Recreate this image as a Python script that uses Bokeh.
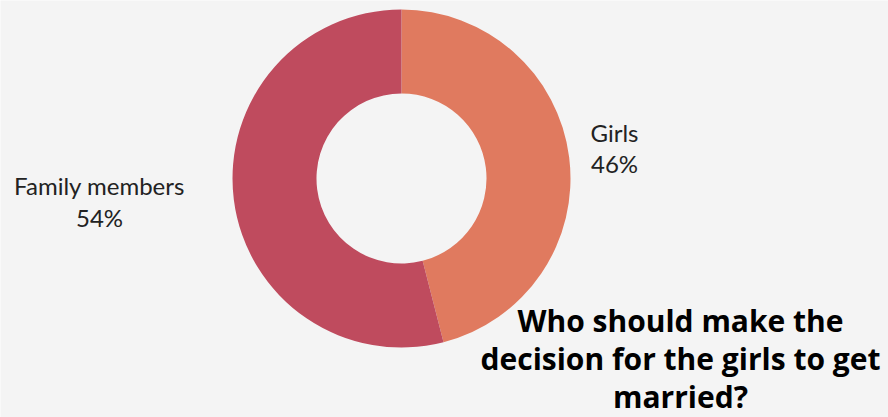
import math
from bokeh.plotting import figure
from bokeh.models import ColumnDataSource, Range1d
from bokeh.core.properties import value
from bokeh.embed import file_html
from bokeh.resources import INLINE

# Data
categories = ["Girls", "Family members"]
shares = [46, 54]
colors = ["#E07A5F", "#BF4B5E"]
title_lines = ["Who should make the", "decision for the girls to get", "married?"]

W, H = 888, 417
p = figure(width=W, height=H, output_backend="svg", toolbar_location=None,
           x_range=Range1d(0, W), y_range=Range1d(0, H),
           background_fill_color="#F4F4F4", border_fill_color="#F4F4F4",
           min_border=0)
p.axis.visible = False
p.grid.visible = False
p.outline_line_color = None

# donut geometry (layout)
cx, cy = 401, H - 178
r_in, r_out = 85, 169

total = sum(shares)
starts, ends = [], []
a = math.pi / 2
for s in shares:
    span = 2 * math.pi * s / total
    starts.append(a - span)
    ends.append(a)
    a -= span

src = ColumnDataSource(dict(cat=categories, share=shares, color=colors,
                            start=starts, end=ends,
                            x=[cx] * len(shares), y=[cy] * len(shares)))
p.annular_wedge(x="x", y="y", inner_radius=r_in, outer_radius=r_out,
                start_angle="start", end_angle="end", fill_color="color",
                line_color=None, source=src)

# labels
label_font = value("Lato")
lab_x = [614, 99]
lab_y1 = [H - 132, H - 185]
lab_y2 = [H - 163, H - 217]
pct = [f"{s}%" for s in shares]
p.text(x=lab_x, y=lab_y1, text=categories, text_font=label_font,
       text_font_size="24px", text_align="center", text_baseline="alphabetic",
       text_color="#222222")
p.text(x=lab_x, y=lab_y2, text=pct, text_font=label_font,
       text_font_size="24px", text_align="center", text_baseline="alphabetic",
       text_color="#222222")

# title
p.text(x=[680] * 3, y=[H - 320, H - 358, H - 396], text=title_lines,
       text_font=value("Open Sans"), text_font_style="bold",
       text_font_size="30px", text_align="center", text_baseline="alphabetic",
       text_color="#000000")

open("out.html", "w").write(file_html(p, INLINE))
